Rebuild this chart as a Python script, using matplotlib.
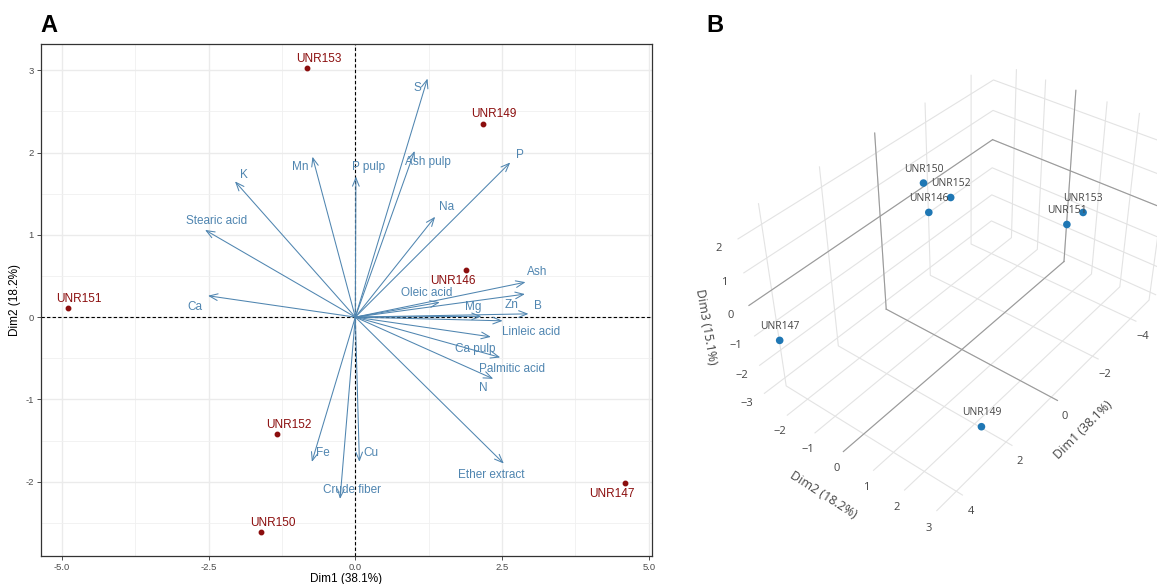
import matplotlib
matplotlib.use('Agg')
import matplotlib.pyplot as plt
from mpl_toolkits.mplot3d import proj3d
import numpy as np

plt.rcParams['font.family'] = ['Liberation Sans', 'DejaVu Sans']

# ---------------- data ----------------
ind_names = ['UNR146', 'UNR147', 'UNR149', 'UNR150', 'UNR151', 'UNR152', 'UNR153']
ind_dim1 = [1.89, 4.60, 2.17, -1.61, -4.89, -1.34, -0.82]
ind_dim2 = [0.575, -2.02, 2.35, -2.61, 0.11, -1.42, 3.03]
ind_dim3 = [2.63, -0.81, -3.03, 0.31, -1.76, 0.47, 2.19]

var_names = ['S', 'Ash pulp', 'P pulp', 'Mn', 'K', 'Stearic acid', 'Ca', 'P', 'Na',
             'Ash', 'Oleic acid', 'Mg', 'Zn', 'B', 'Linleic acid', 'Ca pulp',
             'Palmitic acid', 'N', 'Ether extract', 'Cu', 'Fe', 'Crude fiber']
var_dim1 = [1.23, 1.01, 0.01, -0.73, -2.05, -2.56, -2.51, 2.64, 1.36,
            2.90, 1.44, 2.15, 2.89, 2.95, 2.51, 2.31,
            2.47, 2.35, 2.53, 0.07, -0.74, -0.26]
var_dim2 = [2.90, 2.02, 1.71, 1.95, 1.65, 1.06, 0.26, 1.88, 1.22,
            0.425, 0.18, 0.01, 0.28, 0.04, -0.045, -0.24,
            -0.49, -0.75, -1.78, -1.76, -1.76, -2.21]

xlab1 = 'Dim1 (38.1%)'
ylab2 = 'Dim2 (18.2%)'
zlab3 = 'Dim3 (15.1%)'
xticks_a = [-5.0, -2.5, 0.0, 2.5, 5.0]
yticks_a = [-2, -1, 0, 1, 2, 3]
ticks3_d1 = [-4, -2, 0, 2, 4]
ticks3_d2 = [-2, -1, 0, 1, 2, 3]
ticks3_d3 = [-3, -2, -1, 0, 1, 2]

# label placement offsets (data units) – layout only
var_lab_off = [(-0.18, -0.11), (0.22, -0.14), (0.21, 0.12), (-0.21, -0.13), (0.15, 0.08),
               (0.20, 0.11), (-0.22, -0.14), (0.16, 0.09), (0.20, 0.12), (0.19, 0.125),
               (-0.22, 0.11), (-0.15, 0.11), (-0.22, -0.13), (0.17, 0.10), (0.49, -0.135),
               (-0.27, -0.15), (0.20, -0.14), (-0.17, -0.11), (-0.22, -0.14), (0.20, 0.11),
               (0.18, 0.11), (0.21, 0.11)]
ind_lab_off = [(-0.22, -0.14), (-0.23, -0.13), (0.19, 0.12), (0.20, 0.11),
               (0.18, 0.11), (0.20, 0.11), (0.20, 0.11)]

VAR_COL = '#4f85b0'
IND_COL = '#8b0e0e'

fig = plt.figure(figsize=(11.57, 5.84), dpi=100)

# ---------------- Panel A ----------------
ax = fig.add_axes([40.7 / 1157, 1 - 555.7 / 584, 611.6 / 1157, 511.7 / 584])
ax.set_xlim(-5.36, 5.06)
ax.set_ylim(-2.90, 3.32)
ax.set_xticks(xticks_a)
ax.set_xticklabels(['%.1f' % v for v in xticks_a])
ax.set_yticks(yticks_a)
ax.set_yticklabels([str(v) for v in yticks_a])
ax.set_xticks([-3.75, -1.25, 1.25, 3.75], minor=True)
ax.set_yticks([-2.5, -1.5, -0.5, 0.5, 1.5, 2.5], minor=True)
ax.grid(True, which='major', color='#ebebeb', linewidth=1.0)
ax.grid(True, which='minor', color='#f0f0f0', linewidth=0.6)
ax.set_axisbelow(True)
ax.tick_params(which='minor', length=0)
ax.tick_params(which='major', length=3, color='#333333', width=0.6,
               labelsize=6.8, labelcolor='#4d4d4d', pad=2)
for sp in ax.spines.values():
    sp.set_color('#333333')
    sp.set_linewidth(0.9)
ax.set_xlabel(xlab1, fontsize=8.5, labelpad=1)
ax.set_ylabel(ylab2, fontsize=8.5, labelpad=3)

ax.axhline(0, color='black', linestyle='--', linewidth=0.8, dashes=(3, 2))
ax.axvline(0, color='black', linestyle='--', linewidth=0.8, dashes=(3, 2))

for name, x, y, (dx, dy) in zip(var_names, var_dim1, var_dim2, var_lab_off):
    ax.annotate('', xy=(x, y), xytext=(0, 0),
                arrowprops=dict(arrowstyle='->,head_length=0.6,head_width=0.24',
                                color=VAR_COL, lw=0.75, shrinkA=0, shrinkB=0))
    ax.text(x + dx, y + dy, name, color=VAR_COL, fontsize=8.5,
            ha='center', va='center')

ax.plot(ind_dim1, ind_dim2, 'o', color=IND_COL, markersize=3.2, zorder=5)
for name, x, y, (dx, dy) in zip(ind_names, ind_dim1, ind_dim2, ind_lab_off):
    ax.text(x + dx, y + dy, name, color=IND_COL, fontsize=8.5,
            ha='center', va='center')

fig.text(40 / 1157, 1 - 26 / 584, 'A', fontsize=17, fontweight='bold', va='center')
fig.text(706 / 1157, 1 - 26 / 584, 'B', fontsize=17, fontweight='bold', va='center')

# ---------------- Panel B (3D) ----------------
TXT3 = '#444444'
ax3 = fig.add_axes([0.6248, 0.1204, 0.4174, 0.8269], projection='3d')
xl3 = (-5.05, 4.75)
yl3 = (-2.8, 3.2)
zl3 = (-3.3, 2.6)
ax3.set_xlim(*xl3)
ax3.set_ylim(*yl3)
ax3.set_zlim(*zl3)
ax3.set_box_aspect((xl3[1] - xl3[0], yl3[1] - yl3[0], zl3[1] - zl3[0]))
ax3.set_proj_type('persp', focal_length=0.4)
ax3.view_init(elev=38, azim=38)
ax3.set_xticks(ticks3_d1)
ax3.set_yticks(ticks3_d2)
ax3.set_zticks(ticks3_d3)
for a in (ax3.xaxis, ax3.yaxis, ax3.zaxis):
    a.set_pane_color((1, 1, 1, 0))
    a.line.set_color((0, 0, 0, 0))
    a._axinfo['grid']['color'] = '#e3e3e3'
    a._axinfo['grid']['linewidth'] = 0.8
    a._axinfo['tick']['inward_factor'] = 0
    a._axinfo['tick']['outward_factor'] = 0
    a.offsetText.set_visible(False)
ax3.title.set_visible(False)
ax3._left_title.set_visible(False)
ax3._right_title.set_visible(False)
ax3.tick_params(labelsize=8, colors=TXT3)
ax3.tick_params(axis='x', pad=-1)
ax3.tick_params(axis='y', pad=-3)
ax3.tick_params(axis='z', pad=-1)
for lab in ax3.get_xticklabels() + ax3.get_yticklabels() + ax3.get_zticklabels():
    lab.set_family(['Open Sans', 'DejaVu Sans'])
ax3.set_xlabel(xlab1, fontsize=9, color=TXT3, labelpad=2, family=['Open Sans'])
ax3.set_ylabel(ylab2, fontsize=9, color=TXT3, labelpad=-3, family=['Open Sans'])
ax3.set_zlabel(zlab3, fontsize=9, color=TXT3, labelpad=-4, family=['Open Sans'])

# zero lines on the back walls and floor
zc = '#9a9a9a'
ax3.plot([xl3[0], xl3[0]], [0, 0], [zl3[0], zl3[1]], color=zc, lw=0.8)
ax3.plot([xl3[0], xl3[0]], [yl3[0], yl3[1]], [0, 0], color=zc, lw=0.8)
ax3.plot([0, 0], [yl3[0], yl3[0]], [zl3[0], zl3[1]], color=zc, lw=0.8)
ax3.plot([xl3[0], xl3[1]], [yl3[0], yl3[0]], [0, 0], color=zc, lw=0.8)
ax3.plot([0, 0], [yl3[0], yl3[1]], [zl3[0], zl3[0]], color=zc, lw=0.8)
ax3.plot([xl3[0], xl3[1]], [0, 0], [zl3[0], zl3[0]], color=zc, lw=0.8)

ax3.scatter(ind_dim1, ind_dim2, ind_dim3, color='#1f77b4', s=30, depthshade=False,
            edgecolors='none')
ax3.set_xlim(*xl3)
ax3.set_ylim(*yl3)
ax3.set_zlim(*zl3)

# point labels: project each 3D point with the axes' own projection, label in 2D
px, py, _ = proj3d.proj_transform(np.array(ind_dim1), np.array(ind_dim2),
                                  np.array(ind_dim3), ax3.get_proj())
for name, x2, y2 in zip(ind_names, px, py):
    ax3.annotate(name, xy=(x2, y2), xycoords='data', xytext=(0, 10),
                 textcoords='offset points', fontsize=7.5, color=TXT3,
                 ha='center', va='center', family=['Open Sans', 'DejaVu Sans'])

fig.savefig('out.png', dpi=100)
